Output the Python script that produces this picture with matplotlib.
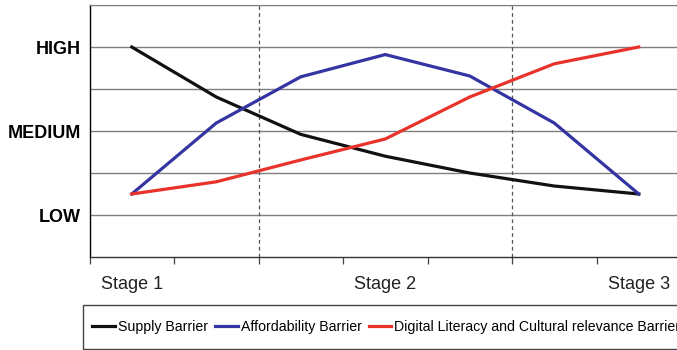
import numpy as np
import matplotlib.pyplot as plt
from matplotlib.patches import Rectangle

plt.rcParams['font.family'] = ['Liberation Sans', 'DejaVu Sans']

# barrier level over the seven steps of the adoption path (LOW=1, MEDIUM=3, HIGH=5)
steps = [1, 2, 3, 4, 5, 6, 7]
supply = [5.0, 3.81, 2.92, 2.4, 2.0, 1.69, 1.5]
affordability = [1.5, 3.19, 4.29, 4.82, 4.31, 3.19, 1.5]
digital = [1.5, 1.79, 2.31, 2.81, 3.81, 4.6, 5.0]

level_ticks = [1, 3, 5]
level_labels = ['LOW', 'MEDIUM', 'HIGH']
stage_ticks = [1, 4, 7]
stage_labels = ['Stage 1', 'Stage 2', 'Stage 3']
stage_bounds = [2.5, 5.5]

fig = plt.figure(figsize=(6.77, 3.5), dpi=100)
ax = fig.add_axes([89.5 / 677, 1 - 257 / 350, (681 - 89.5) / 677, 252 / 350])

for y in range(1, 7):
    ax.axhline(y, color='#7f7f7f', lw=1.0, zorder=1)
for xb in stage_bounds:
    ax.axvline(xb, color='#555555', lw=0.9, ls=(0, (3, 2.5)), zorder=1)

ax.plot(steps, supply, color='#111111', lw=2.3, zorder=3, label='Supply Barrier')
ax.plot(steps, affordability, color='#3434a2', lw=2.3, zorder=3, label='Affordability Barrier')
ax.plot(steps, digital, color='#e8322a', lw=2.3, zorder=3,
        label='Digital Literacy and Cultural relevance Barrier')

ax.set_xlim(0.5, 7.5)
ax.set_ylim(0, 6)
ax.set_yticks(level_ticks)
ax.set_yticklabels(level_labels, fontsize=13, fontweight='bold')
ax.tick_params(axis='y', length=0, pad=6)
ax.set_xticks(stage_ticks)
ax.set_xticklabels(stage_labels, fontsize=13, color='#222222')
ax.set_xticks(np.arange(0.5, 8.0, 1.0), minor=True)
ax.tick_params(axis='x', which='major', length=0, pad=14)
ax.tick_params(axis='x', which='minor', length=5, width=0.9, color='#444444')

ax.spines['top'].set_color('#7f7f7f')
ax.spines['right'].set_visible(False)
ax.spines['left'].set_linewidth(1.0)
ax.spines['bottom'].set_linewidth(1.0)
ax.spines['bottom'].set_color('#333333')

# legend strip below the chart
fig.patches.append(Rectangle((83 / 677, 1 - 349 / 350), 0.99, 44 / 350,
                             transform=fig.transFigure, fill=False,
                             edgecolor='#444444', lw=1.0))
fig.legend(loc='center left', bbox_to_anchor=(92 / 677, 1 - 327 / 350), ncol=3,
           frameon=False, fontsize=10.2, handlelength=1.6, handletextpad=0.22,
           columnspacing=0.5, borderaxespad=0, borderpad=0)

fig.savefig('out.png', dpi=100)
